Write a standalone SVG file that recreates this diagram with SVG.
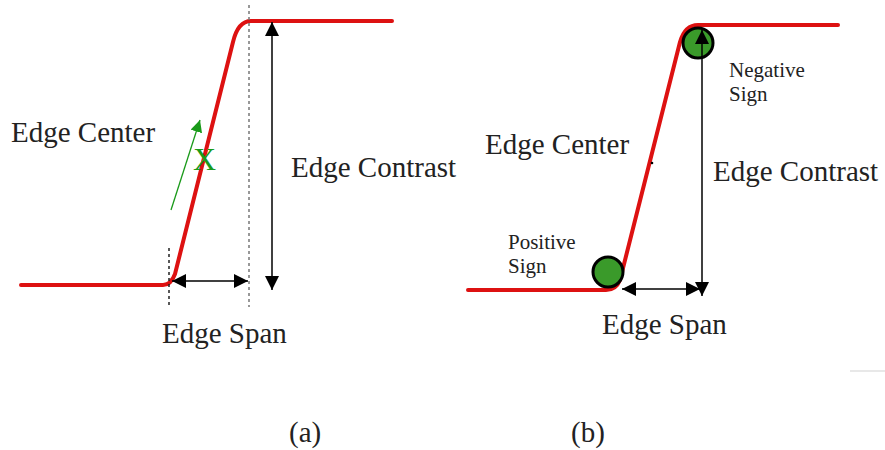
<svg xmlns="http://www.w3.org/2000/svg" width="885" height="450" viewBox="0 0 885 450">
<style>
.curve{fill:none;stroke:#dd1111;stroke-width:4;stroke-linejoin:round;stroke-linecap:round}
.lbl{font-family:"Liberation Serif","Times New Roman",serif;font-size:29px;fill:#222}
.sm{font-family:"Liberation Serif","Times New Roman",serif;font-size:21px;fill:#222}
.arr{stroke:#000;stroke-width:1.5;fill:none}
.dash{stroke:#777;stroke-width:1.5;stroke-dasharray:3 3;fill:none}
.dot{fill:#3a9a2a;stroke:#000;stroke-width:3}
</style>
<defs>
<marker id="ahb" viewBox="0 0 10 10" refX="10" refY="5" markerWidth="14" markerHeight="14" markerUnits="userSpaceOnUse" orient="auto-start-reverse">
<path d="M0,0 L10,5 L0,10 Z" fill="#000"/>
</marker>
<marker id="ahg" viewBox="0 0 10 10" refX="10" refY="5" markerWidth="12" markerHeight="12" markerUnits="userSpaceOnUse" orient="auto">
<path d="M0,0 L10,5 L0,10 Z" fill="#1a9a1a"/>
</marker>
</defs>
<rect width="885" height="450" fill="#fff"/>
<g id="panel-a">
<path class="curve" d="M21,285 L163,285 Q171,285 175,274 L233,42 Q238,21 251,21 L392,21"/>
<line class="dash" x1="169" y1="248" x2="169" y2="306" style="stroke:#222"/>
<line class="dash" x1="249" y1="5" x2="249" y2="307"/>
<g id="conn-a">
<line class="arr" x1="172" y1="281" x2="248" y2="281" marker-start="url(#ahb)" marker-end="url(#ahb)"/>
<line class="arr" x1="272" y1="22" x2="272" y2="290" marker-start="url(#ahb)" marker-end="url(#ahb)"/>
<line x1="171" y1="210" x2="200" y2="120" stroke="#1a9a1a" stroke-width="1.3" marker-end="url(#ahg)"/>
</g>
<text class="lbl" x="11" y="142">Edge Center</text>
<text class="lbl" x="291" y="177">Edge Contrast</text>
<text class="lbl" x="162" y="343">Edge Span</text>
<text x="193" y="170" font-family="Liberation Serif, serif" font-size="32" fill="#1a9a1a">X</text>
</g>
<g id="panel-b">
<path class="curve" d="M468,290 L606,290 Q616,290 620,280 L680,42 Q685,25 698,25 L838,25"/>
<circle id="pos-sign" class="dot" cx="608" cy="272" r="15"/>
<circle id="neg-sign" class="dot" cx="698" cy="43" r="15"/>
<circle cx="652" cy="163" r="1.3" fill="#000"/>
<g id="conn-b">
<line class="arr" x1="622" y1="289" x2="700" y2="289" marker-start="url(#ahb)" marker-end="url(#ahb)"/>
<line class="arr" x1="702" y1="30" x2="702" y2="296" marker-start="url(#ahb)" marker-end="url(#ahb)"/>
</g>
<text class="lbl" x="485" y="154">Edge Center</text>
<text class="lbl" x="713" y="181">Edge Contrast</text>
<text class="lbl" x="602" y="334">Edge Span</text>
<text class="sm" x="729" y="77">Negative</text>
<text class="sm" x="729" y="101">Sign</text>
<text class="sm" x="508" y="249">Positive</text>
<text class="sm" x="508" y="273">Sign</text>
</g>
<line x1="850" y1="371" x2="885" y2="371" stroke="#e0e0e0" stroke-width="1.5"/>
<text class="lbl" x="289" y="442" font-size="26">(a)</text>
<text class="lbl" x="571" y="442" font-size="26">(b)</text>
</svg>
